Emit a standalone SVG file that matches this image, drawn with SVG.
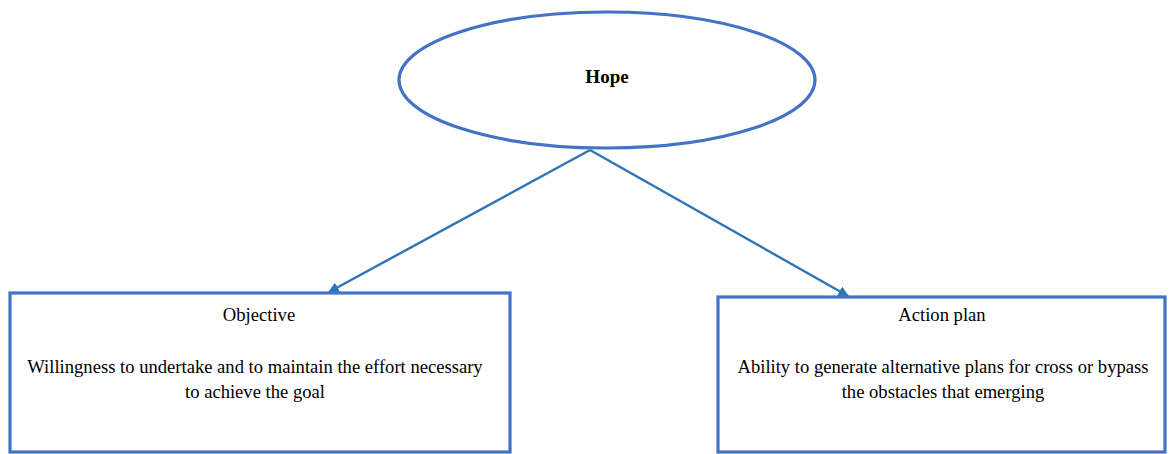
<svg xmlns="http://www.w3.org/2000/svg" width="1169" height="454" viewBox="0 0 1169 454">
<style>
.shape{fill:#ffffff;stroke:#4472c4;stroke-width:3.2}
.conn{stroke:#2e75b6;stroke-width:2.4;fill:none}
text{font-family:"Liberation Serif","Times New Roman",serif;fill:#000;text-anchor:middle}
.t{font-size:18.6px}
.b{font-size:19px;font-weight:bold}
</style>
<defs>
<marker id="ah" viewBox="0 0 10 10" refX="9" refY="5" markerWidth="4.5" markerHeight="4.5" orient="auto" markerUnits="strokeWidth">
<path d="M0,0 L10,5 L0,10 z" fill="#2e75b6"/>
</marker>
</defs>
<rect width="1169" height="454" fill="#ffffff"/>
<g id="connectors">
<line class="conn" x1="590" y1="150" x2="329" y2="292" marker-end="url(#ah)"/>
<line class="conn" x1="590" y1="150" x2="848" y2="296" marker-end="url(#ah)"/>
</g>
<g id="hope">
<ellipse class="shape" cx="607" cy="80" rx="208" ry="68"/>
<text class="b" x="607" y="83">Hope</text>
</g>
<g id="objective">
<rect class="shape" x="10" y="293" width="500" height="159"/>
<text class="t" x="259" y="321">Objective</text>
<text class="t" x="255" y="373">Willingness to undertake and to maintain the effort necessary</text>
<text class="t" x="255" y="398">to achieve the goal</text>
</g>
<g id="action-plan">
<rect class="shape" x="718" y="297" width="447" height="155"/>
<text class="t" x="942" y="321">Action plan</text>
<text class="t" x="943" y="373">Ability to generate alternative plans for cross or bypass</text>
<text class="t" x="943" y="398">the obstacles that emerging</text>
</g>
</svg>
